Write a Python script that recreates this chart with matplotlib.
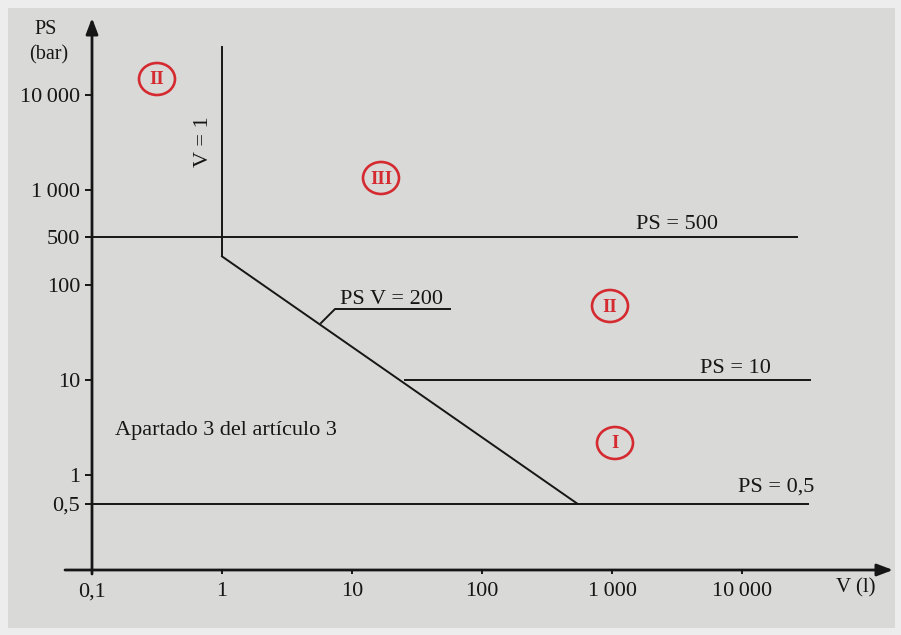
import numpy as np
import matplotlib
matplotlib.use("Agg")
import matplotlib.pyplot as plt
from matplotlib.patches import Ellipse, Rectangle

# ---------------- data ----------------
V_TICKS = [0.1, 1, 10, 100, 1000, 10000]
V_TICK_LABELS = ["0,1", "1", "10", "100", "1\u2009000", "10\u2009000"]
PS_TICKS = [0.5, 1, 10, 100, 500, 1000, 10000]
PS_TICK_LABELS = ["0,5", "1", "10", "100", "500", "1\u2009000", "10\u2009000"]

V1_LINE_V = [1, 1]
V1_LINE_PS = [200, 32000]
DIAG_V = [1, 540]
DIAG_PS = [200, 0.5]
PS500_V = [0.092, 26500]
PS500_PS = [500, 500]
PS10_V = [25.6, 33300]
PS10_PS = [10, 10]
PS05_V = [0.1, 32000]
PS05_PS = [0.5, 0.5]

REGION_LABELS = ["II", "III", "II", "I"]

# ---------------- style ----------------
W, H = 901, 635
FONT = "Liberation Serif"
INK = "#161616"
RED = "#d42a30"
BG = "#d9dad8"
FS = 16

plt.rcParams["font.family"] = [FONT, "DejaVu Serif"]

# schematic PS scale: logarithmic, with the 500 mark drawn midway between 100 and 1000
KN_LOG = [-8.0, np.log10(200), np.log10(500), 3.0, 9.0]
KN_POS = [-8.0, np.log10(200), 2.5, 3.0, 9.0]


def fwd(v):
    v = np.asarray(v, dtype=float)
    return np.interp(np.log10(np.clip(v, 1e-300, None)), KN_LOG, KN_POS)


def inv(t):
    return 10 ** np.interp(np.asarray(t, dtype=float), KN_POS, KN_LOG)


fig = plt.figure(figsize=(W / 100, H / 100), dpi=100, facecolor="#ededed")
fig.add_artist(Rectangle((8 / W, 7 / H), (895 - 8) / W, (628 - 8) / H,
                         transform=fig.transFigure, facecolor=BG,
                         edgecolor="none", zorder=0))

ax = fig.add_axes([0, 0, 1, 1])
ax.set_facecolor("none")
ax.set_xscale("log")
ax.set_yscale("function", functions=(fwd, inv))


# pixel mapping: V=0.1 at x=92, 130 px per decade ; PS=1 at y=475, 95 px per decade
def xv(px):
    return 10 ** (-1 + (px - 92) / 130)


def yv(py):
    return float(inv((475 - py) / 95))


ax.set_xlim(xv(0), xv(W))
ax.set_ylim(yv(H), yv(0))

for s in ("top", "right"):
    ax.spines[s].set_visible(False)
ax.spines["left"].set_position(("data", 0.1))
ax.spines["bottom"].set_position(("data", 0.1))
ax.spines["left"].set_color("none")
ax.spines["bottom"].set_color("none")

ax.set_xticks(V_TICKS)
ax.set_xticklabels(V_TICK_LABELS)
ax.set_yticks(PS_TICKS)
ax.set_yticklabels(PS_TICK_LABELS)
ax.xaxis.set_minor_locator(matplotlib.ticker.NullLocator())
ax.yaxis.set_minor_locator(matplotlib.ticker.NullLocator())
ax.tick_params(axis="x", direction="out", length=3, width=1.4, color=INK,
               pad=6, labelsize=FS, labelcolor=INK)
ax.tick_params(axis="y", direction="out", length=5, width=1.4, color=INK,
               pad=3.5, labelsize=FS, labelcolor=INK)

# axes with arrows
arrow = dict(arrowstyle="-|>,head_length=0.95,head_width=0.36", lw=2.0,
             color=INK, shrinkA=0, shrinkB=0, mutation_scale=10)
ax.annotate("", xy=(0.1, yv(18)), xytext=(0.1, yv(574)), arrowprops=arrow)
ax.annotate("", xy=(xv(893), 0.1), xytext=(xv(65), 0.1), arrowprops=arrow)

lw = 1.4
ax.plot(V1_LINE_V, V1_LINE_PS, color=INK, lw=lw)
ax.plot(DIAG_V, DIAG_PS, color=INK, lw=lw)
ax.plot(PS500_V, PS500_PS, color=INK, lw=lw)
ax.plot(PS10_V, PS10_PS, color=INK, lw=lw)
ax.plot(PS05_V, PS05_PS, color=INK, lw=lw)

# leader for PS V = 200
ax.plot([xv(321), xv(335), xv(450)], [yv(323), yv(309), yv(309)],
        color=INK, lw=lw)


def ftext(x, y, s, **kw):
    kw.setdefault("fontsize", FS)
    kw.setdefault("color", INK)
    return fig.text(x / W, 1 - y / H, s, **kw)


ftext(340, 304, "PS V = 200", ha="left", va="baseline")
ftext(636, 229, "PS = 500", ha="left", va="baseline")
ftext(700, 373, "PS = 10", ha="left", va="baseline")
ftext(738, 492, "PS = 0,5", ha="left", va="baseline")
ftext(115, 435, "Apartado 3 del artículo 3", ha="left", va="baseline")
ftext(203, 142, "V = 1", ha="center", va="center", rotation=90)
ftext(46, 30, "PS", ha="center", va="center", fontsize=FS - 1.5)
ftext(49, 55, "(bar)", ha="center", va="center", fontsize=FS - 1.5)
ftext(836, 588, "V (l)", ha="left", va="center", fontsize=FS - 1)

region_pos = [(157, 79), (381, 178), (610, 306), (615, 443)]
for lab, (x, y) in zip(REGION_LABELS, region_pos):
    fig.add_artist(Ellipse((x / W, 1 - y / H), 36 / W, 32 / H,
                           transform=fig.transFigure, facecolor="none",
                           edgecolor=RED, lw=1.9, zorder=5))
    ftext(x, y + 1, lab, ha="center", va="center", color=RED, fontsize=13.5,
          fontweight="bold")

fig.savefig("out.png", dpi=100, facecolor=fig.get_facecolor())
